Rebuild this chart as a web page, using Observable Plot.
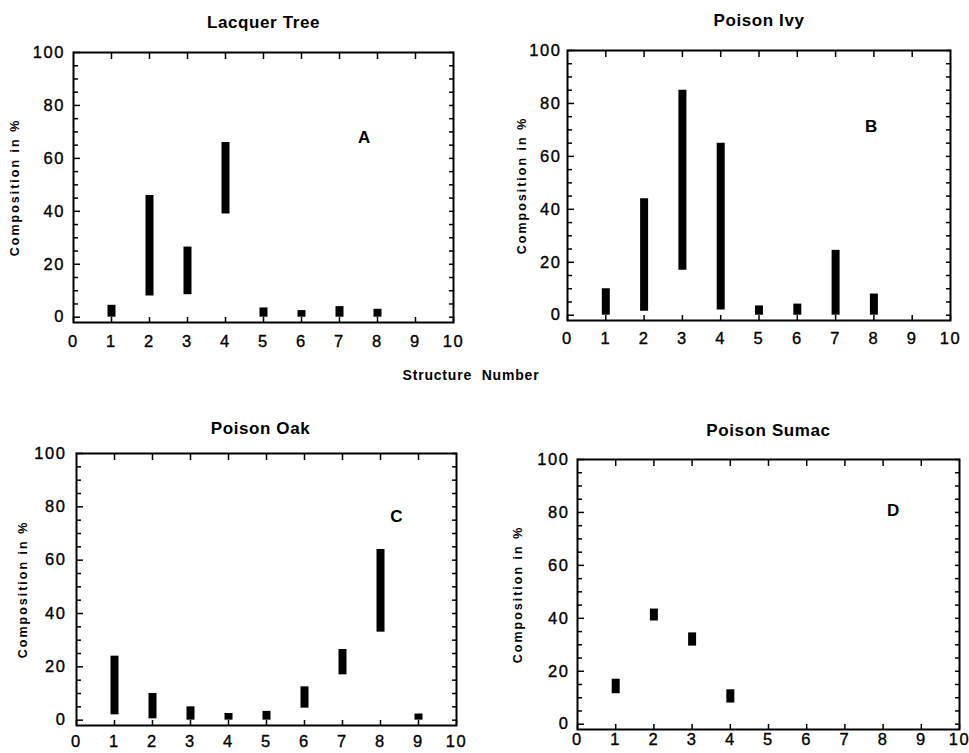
<!DOCTYPE html>
<html>
<head>
<meta charset="utf-8">
<script src="https://cdn.jsdelivr.net/npm/d3@7"></script>
<script src="https://cdn.jsdelivr.net/npm/@observablehq/plot@0.6"></script>
<style>
  html, body { margin: 0; padding: 0; background: #fff; }
  #root { position: relative; width: 969px; height: 753px; background: #fff; overflow: hidden;
          font-family: "Liberation Sans", Arial, Helvetica, sans-serif; color: #000; }
  .panel { position: absolute; }
  #xlabel { position: absolute; left: 0; width: 942px; top: 367px; text-align: center;
            font-weight: bold; font-size: 14px; letter-spacing: 0.8px; word-spacing: 5px; }
  g[aria-label="x-axis tick label"] text, g[aria-label="y-axis tick label"] text {
    letter-spacing: 1.6px; stroke: #000; stroke-width: 0.35px; }
</style>
</head>
<body>
<div id="root">
  <div id="pA" class="panel" style="left:0px;top:0px"></div>
  <div id="pB" class="panel" style="left:485px;top:0px"></div>
  <div id="pC" class="panel" style="left:0px;top:380px"></div>
  <div id="pD" class="panel" style="left:485px;top:380px"></div>
  <div id="xlabel">Structure Number</div>
</div>
<script>
// ---- data ----
const yLabel = "Composition in %";
const xTicks = [0, 1, 2, 3, 4, 5, 6, 7, 8, 9, 10];
const yMajor = [0, 20, 40, 60, 80, 100];
const yMinor = [5, 10, 15, 25, 30, 35, 45, 50, 55, 65, 70, 75, 85, 90, 95];

const titles = ["Lacquer Tree", "Poison Ivy", "Poison Oak", "Poison Sumac"];
const letters = ["A", "B", "C", "D"];

// structure numbers and composition ranges (low / high, %)
const lacquerX  = [1, 2, 3, 4, 5, 6, 7, 8];
const lacquerLo = [0, 8, 8.5, 39, 0, 0, 0, 0];
const lacquerHi = [4.5, 46, 26.5, 66, 3.5, 2.5, 4, 3];

const ivyX  = [1, 2, 3, 4, 5, 6, 7, 8];
const ivyLo = [0, 1.5, 17, 2, 0, 0, 0, 0];
const ivyHi = [10, 44, 85, 65, 3.5, 4.2, 24.5, 8];

const oakX  = [1, 2, 3, 4, 5, 6, 7, 8, 9];
const oakLo = [2, 0.5, 0, 0, 0, 4.5, 17, 33, 0];
const oakHi = [24, 10, 5, 2.5, 3.3, 12.5, 26.5, 64, 2.3];

const sumacX  = [1, 2, 3, 4];
const sumacLo = [11.5, 39, 29.5, 8];
const sumacHi = [17, 43.5, 34.5, 13];

// letter annotation positions (data coordinates)
const letterX = [7.65, 7.93, 8.42, 8.26];
const letterY = [67.8, 71.3, 76.4, 80.8];

// ---- layout ----
const layouts = [
  {el: "pA", width: 485, height: 360, mL: 73, mR: 32, mT: 52, mB: 38, padX: 13, padY: 8.5, titleDy: -30, titleDx: 0, ylabDx: -59},
  {el: "pB", width: 484, height: 360, mL: 82, mR: 19, mT: 50, mB: 40, padX: 12, padY: 6, titleDy: -30, titleDx: 0, ylabDx: -46},
  {el: "pC", width: 485, height: 373, mL: 76, mR: 29, mT: 73, mB: 28, padX: 10, padY: 10, titleDy: -25, titleDx: -6, ylabDx: -54},
  {el: "pD", width: 484, height: 373, mL: 92, mR: 10, mT: 79, mB: 24, padX: 4, padY: 8, titleDy: -29, titleDx: 0, ylabDx: -60}
];
const series = [
  [lacquerX, lacquerLo, lacquerHi],
  [ivyX, ivyLo, ivyHi],
  [oakX, oakLo, oakHi],
  [sumacX, sumacLo, sumacHi]
];

layouts.forEach((L, i) => {
  const [xs, lo, hi] = series[i];
  const rows = xs.map((x, j) => ({x, lo: lo[j], hi: hi[j]}));
  const chart = Plot.plot({
    width: L.width, height: L.height,
    marginLeft: L.mL, marginRight: L.mR, marginTop: L.mT, marginBottom: L.mB,
    style: {fontFamily: "'Liberation Sans', Arial, Helvetica, sans-serif", fontSize: "16px", color: "#000", background: "#fff", overflow: "visible"},
    x: {domain: [0, 10]},
    y: {domain: [-2, 100]},
    marks: [
      Plot.ruleX(rows, {x: "x", y1: "lo", y2: "hi", strokeWidth: 8, stroke: "#000"}),
      Plot.frame({stroke: "#000", strokeWidth: 2}),
      Plot.axisX({anchor: "bottom", ticks: xTicks, tickSize: 5, dy: -5, tickPadding: L.padX, tickFormat: d => d, label: null, strokeWidth: 1.5, fontSize: 16.5}),
      Plot.axisX({anchor: "top", ticks: xTicks.slice(1, -1), tickSize: 6, dy: 6, fill: "none", label: null, strokeWidth: 1.5}),
      Plot.axisY({anchor: "left", ticks: yMajor, tickSize: 7, dx: 7, tickPadding: L.padY, tickFormat: d => d, label: null, strokeWidth: 1.5, fontSize: 16.5}),
      Plot.axisY({anchor: "left", ticks: yMinor, tickSize: 5, dx: 5, fill: "none", label: null, strokeWidth: 1.5}),
      Plot.axisY({anchor: "right", ticks: yMajor.concat(yMinor), tickSize: 5, dx: -5, fill: "none", label: null, strokeWidth: 1.5}),
      Plot.text([titles[i]], {frameAnchor: "top", text: d => d, dy: L.titleDy, dx: L.titleDx, lineAnchor: "middle", textAnchor: "middle", fontWeight: "bold", fontSize: 17}),
      Plot.text([yLabel], {frameAnchor: "left", text: d => d, rotate: -90, dx: L.ylabDx, lineAnchor: "middle", textAnchor: "middle", fontWeight: "bold", fontSize: 12.5}),
      Plot.text([letters[i]], {x: () => letterX[i], y: () => letterY[i], text: d => d, fontWeight: "bold", fontSize: 17})
    ]
  });
  // letter spacing for the rotated axis title and panel title
  d3.select(chart).selectAll("text").each(function () {
    const t = this.textContent;
    if (t === yLabel) this.style.letterSpacing = "2px";
    else if (t === titles[i]) this.style.letterSpacing = "0.6px";
  });
  document.getElementById(L.el).appendChild(chart);
});
</script>
</body>
</html>
